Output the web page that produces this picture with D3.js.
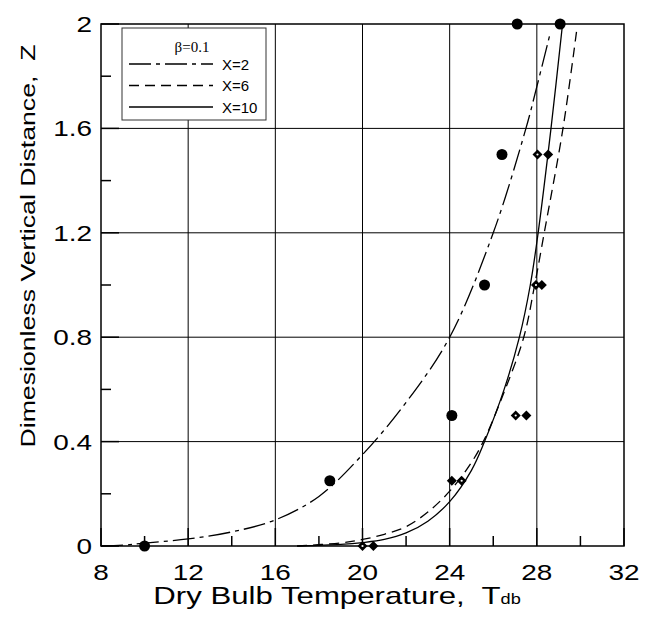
<!DOCTYPE html>
<html>
<head>
<meta charset="utf-8">
<script src="https://cdn.jsdelivr.net/npm/d3@7"></script>
<style>
  body { margin: 0; background: #fff; }
  text { font-family: Arial, "Liberation Sans", sans-serif; fill: #000; white-space: pre; }
</style>
</head>
<body>
<script>
// curve X=2 (dash-dot)
var x2T = [8, 9, 10, 12, 14, 16, 18, 20, 22, 24, 26, 27.5, 28, 28.6];
var x2Z = [0, 0.003, 0.011, 0.027, 0.054, 0.1, 0.19, 0.35, 0.55, 0.8, 1.2, 1.6, 1.76, 1.96];
// curve X=6 (dashed)
var x6T = [17, 19, 20, 21, 22, 23, 24, 25, 25.6, 26.5, 27.4, 27.9, 28.34, 29.2, 29.82];
var x6Z = [0, 0.012, 0.025, 0.045, 0.074, 0.13, 0.21, 0.32, 0.41, 0.59, 0.8, 1.0, 1.2, 1.6, 1.97];
// curve X=10 (solid)
var x10T = [17, 19, 20, 21, 22, 23, 24, 25, 25.6, 26.5, 27.2, 27.7, 28.06, 28.65, 29.18];
var x10Z = [0, 0.006, 0.013, 0.025, 0.05, 0.095, 0.17, 0.29, 0.4, 0.6, 0.8, 1.0, 1.2, 1.6, 2.0];

// measured points
var circT = [10, 18.5, 24.1, 25.6, 26.4, 27.1, 29.07];
var circZ = [0, 0.25, 0.5, 1.0, 1.5, 2.0, 2.0];
var openDT = [20.0, 24.55, 27.03, 27.96, 28.03];
var openDZ = [0, 0.25, 0.5, 1.0, 1.5];
var fillDT = [20.5, 24.1, 27.52, 28.23, 28.52];
var fillDZ = [0, 0.25, 0.5, 1.0, 1.5];

var xTicks = [8, 12, 16, 20, 24, 28, 32];
var xMinor = [10, 14, 18, 22, 26, 30];
var yTicks = [0, 0.4, 0.8, 1.2, 1.6, 2];
var yMinor = [0.2, 0.6, 1.0, 1.4, 1.8];

var width = 655, height = 619;
var margin = {top: 24, right: 30, bottom: 73, left: 101};
var sx = 1.27; // horizontal stretch of the original lettering

var svg = d3.select("body").append("svg")
    .attr("width", width)
    .attr("height", height);

var x = d3.scaleLinear().domain([8, 32]).range([margin.left, width - margin.right - 1]);
var y = d3.scaleLinear().domain([0, 2]).range([height - margin.bottom, margin.top]);

// grid
svg.append("g").selectAll("line")
    .data(xTicks.slice(1, -1))
  .enter().append("line")
    .attr("x1", d => x(d)).attr("x2", d => x(d))
    .attr("y1", y(0)).attr("y2", y(2))
    .style("stroke", "#000").style("stroke-width", 1);
svg.append("g").selectAll("line")
    .data(yTicks.slice(1, -1))
  .enter().append("line")
    .attr("x1", x(8)).attr("x2", x(32))
    .attr("y1", d => y(d)).attr("y2", d => y(d))
    .style("stroke", "#000").style("stroke-width", 1);

// ticks
svg.append("g").selectAll("line")
    .data(xTicks.concat(xMinor))
  .enter().append("line")
    .attr("x1", d => x(d)).attr("x2", d => x(d))
    .attr("y1", y(0))
    .attr("y2", d => y(0) - (xTicks.indexOf(d) >= 0 ? 18 : 10))
    .style("stroke", "#000").style("stroke-width", 1.5);
svg.append("g").selectAll("line")
    .data(yTicks.concat(yMinor))
  .enter().append("line")
    .attr("y1", d => y(d)).attr("y2", d => y(d))
    .attr("x1", x(8))
    .attr("x2", d => x(8) + (yTicks.indexOf(d) >= 0 ? 18 : 10))
    .style("stroke", "#000").style("stroke-width", 1.5);

// frame
svg.append("rect")
    .attr("x", x(8)).attr("y", y(2))
    .attr("width", x(32) - x(8)).attr("height", y(0) - y(2))
    .style("fill", "none").style("stroke", "#000").style("stroke-width", 1.5);

// tick labels
svg.append("g").selectAll("text")
    .data(xTicks)
  .enter().append("text")
    .attr("transform", d => "translate(" + x(d) + "," + (y(0) + 34) + ") scale(" + sx + ",1)")
    .attr("text-anchor", "middle")
    .style("font-size", "22px")
    .text(d => d);
svg.append("g").selectAll("text")
    .data(yTicks)
  .enter().append("text")
    .attr("transform", d => "translate(" + (x(8) - 9) + "," + (y(d) + 8) + ") scale(" + sx + ",1)")
    .attr("text-anchor", "end")
    .style("font-size", "22px")
    .text(d => d3.format("~g")(d));

// axis titles
var xt = svg.append("text")
    .attr("transform", "translate(337," + (height - 15) + ") scale(1.3,1)")
    .attr("text-anchor", "middle")
    .style("font-size", "24px");
xt.append("tspan").text("Dry Bulb Temperature,  T");
xt.append("tspan").style("font-size", "14px").text("db");

svg.append("text")
    .attr("transform", "translate(35,246) rotate(-90) scale(" + sx + ",1)")
    .attr("text-anchor", "middle")
    .style("font-size", "21px")
    .text("Dimesionless Vertical Distance,  Z");

// curves
var line = d3.line()
    .x(d => x(d[0]))
    .y(d => y(d[1]))
    .curve(d3.curveCatmullRom.alpha(0.5));

var curves = [
  {T: x2T, Z: x2Z, dash: "22,5,4,5"},
  {T: x6T, Z: x6Z, dash: "10,6"},
  {T: x10T, Z: x10Z, dash: null}
];

svg.append("g").selectAll("path")
    .data(curves)
  .enter().append("path")
    .attr("d", c => line(c.T.map((t, i) => [t, c.Z[i]])))
    .style("fill", "none")
    .style("stroke", "#000")
    .style("stroke-width", 1.3)
    .style("stroke-dasharray", c => c.dash);

// markers
svg.append("g").selectAll("circle")
    .data(circT.map((t, i) => [t, circZ[i]]))
  .enter().append("circle")
    .attr("cx", d => x(d[0])).attr("cy", d => y(d[1]))
    .attr("r", 5.5)
    .style("fill", "#000");

var diamond = d3.symbol().type(d3.symbolDiamond2).size(64);

svg.append("g").selectAll("path")
    .data(fillDT.map((t, i) => [t, fillDZ[i]]))
  .enter().append("path")
    .attr("transform", d => "translate(" + x(d[0]) + "," + y(d[1]) + ")")
    .attr("d", diamond)
    .style("fill", "#000");

var openG = svg.append("g").selectAll("g")
    .data(openDT.map((t, i) => [t, openDZ[i]]))
  .enter().append("g")
    .attr("transform", d => "translate(" + x(d[0]) + "," + y(d[1]) + ")");
openG.append("path")
    .attr("d", diamond)
    .style("fill", "#000");
openG.append("circle")
    .attr("r", 1.1)
    .style("fill", "#fff");

// legend
var lg = svg.append("g");
lg.append("rect")
    .attr("x", 122).attr("y", 28).attr("width", 144).attr("height", 92)
    .style("fill", "#fff").style("stroke", "#333").style("stroke-width", 1);
lg.append("text")
    .attr("x", 192).attr("y", 52)
    .attr("text-anchor", "middle")
    .style("font-family", "'Liberation Serif', 'Times New Roman', serif")
    .style("font-size", "15px")
    .text("β=0.1");

var legendNames = ["X=2", "X=6", "X=10"];
var legendRows = lg.selectAll("g.row")
    .data(curves)
  .enter().append("g")
    .attr("class", "row")
    .attr("transform", (c, i) => "translate(0," + (64 + i * 21.5) + ")");
legendRows.append("line")
    .attr("x1", 129).attr("x2", 213)
    .style("stroke", "#000").style("stroke-width", 1.3)
    .style("stroke-dasharray", c => c.dash);
legendRows.append("text")
    .attr("x", 222).attr("y", 5.5)
    .style("font-size", "15px")
    .text((c, i) => legendNames[i]);
</script>
</body>
</html>
